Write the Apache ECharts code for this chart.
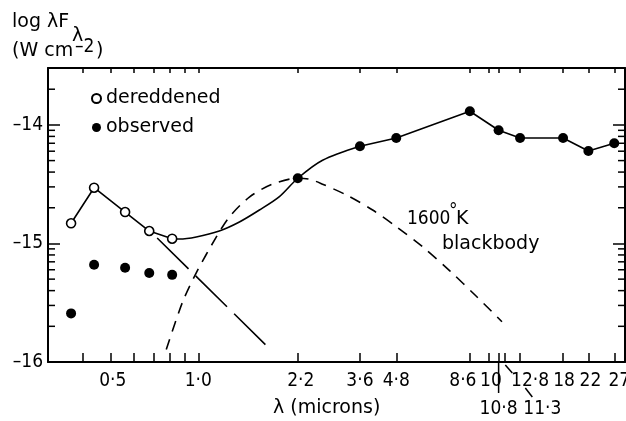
<!DOCTYPE html>
<html><head><meta charset="utf-8">
<script src="https://cdn.jsdelivr.net/npm/echarts@6/dist/echarts.min.js"></script>
<style>html,body{margin:0;padding:0;background:#fff}#c{width:626px;height:421px}</style>
</head><body><div id="c"></div>
<script>
// ---- data (wavelength in microns, log lambda F_lambda in W cm^-2) ----
const optLambda = [0.365, 0.438, 0.56, 0.678, 0.813];
const dereddened = [-14.83, -14.53, -14.735, -14.895, -14.96];
const observedOpt = [-15.59, -15.18, -15.205, -15.25, -15.265];
const irLambda = [2.2, 3.6, 4.8, 8.6, 10.8, 12.8, 18, 22, 27];
const irObserved = [-14.45, -14.18, -14.11, -13.885, -14.045, -14.11, -14.11, -14.22, -14.155];
// smooth fitted curve between optical and near-IR
const fitLambda = [0.86, 0.984, 1.181, 1.385, 1.623, 1.902, 2.677];
const fitValue = [-14.962, -14.945, -14.895, -14.819, -14.718, -14.605, -14.298];
// 1600 K blackbody (dashed)
const bbLambda = [0.776, 0.881, 0.984, 1.154, 1.279, 1.499, 1.80, 2.195, 2.414, 2.677, 3.238, 3.981, 4.818, 5.923, 7.337, 9.09, 11.09];
const bbValue = [-15.895, -15.50, -15.248, -14.945, -14.777, -14.609, -14.50, -14.45, -14.458, -14.50, -14.592, -14.718, -14.861, -15.029, -15.231, -15.45, -15.66];
// stellar tail (long dashes)
const tailLambda = [0.722, 1.702];
const tailValue = [-14.954, -15.853];
// axis ticks
const xLabelValues = [0.5, 1.0, 2.2, 3.6, 4.8, 8.6, 10, 12.8, 18, 22, 27];
const xLabelText = ['0·5', '1·0', '2·2', '3·6', '4·8', '8·6', '10', '12·8', '18', '22', '27'];
const xMinorValues = [0.4, 0.6, 0.7, 0.8, 0.9];
const xExtraBottom = [10.8, 11.3];
const xExtraTop = [10.8];
const yLabelValues = [-16, -15, -14];
const yMinorMultipliers = [2, 3, 4, 5, 6, 7, 8, 9];
const xMin = 0.304, xMax = 29.4, yMin = -16, yMax = -13.52;

// layout: horizontal nudges (px) of some tick labels, as in the original typesetting
const labelNudge = { '0·5': 2, '2·2': 3, '8·6': -7, '10': 2, '12·8': 10, '18': 1, '22': 2, '27': 5 };

const L = Math.log10;
const pairs = (xs, ys) => xs.map((x, i) => [L(x), ys[i]]);
// logarithmic minor ticks of the flux axis (2..9 x 10^n)
const yMinor = [];
yLabelValues.forEach(d => { yMinorMultipliers.forEach(k => { const v = d + L(k); if (v < yMax - 0.01) yMinor.push(v); }); });

const fitPts = pairs([optLambda[4]].concat(fitLambda, irLambda.slice(0, 2)),
                     [dereddened[4]].concat(fitValue, irObserved.slice(0, 2)))
                .sort((a, b) => a[0] - b[0]);

const FONT = 'DejaVu Sans';
const DIGF = '"DejaVu Sans Condensed", "DejaVu Sans"';
const blk = '#000';
const rich = {};
xLabelText.forEach((t, i) => {
  const n = labelNudge[t] || 0;
  rich['s' + i] = { fontFamily: DIGF, fontSize: 19, color: blk,
    padding: n >= 0 ? [0, 0, 0, 2 * n] : [0, -2 * n, 0, 0] };
});

const chart = echarts.init(document.getElementById('c'), null, { renderer: 'canvas' });
const common = { type: 'value', min: L(xMin), max: L(xMax), splitLine: { show: false } };
const yCommon = { type: 'value', min: yMin, max: yMax, splitLine: { show: false } };

chart.setOption({
  animation: false,
  backgroundColor: '#fff',
  grid: { left: 48, right: 1, top: 68, bottom: 59, outerBoundsMode: 'none', containLabel: false },
  legend: {
    orient: 'vertical', left: 91, top: 89, padding: 0, itemGap: 10,
    itemWidth: 9, itemHeight: 9,
    data: [{ name: 'dereddened', icon: 'circle' }, { name: 'observed', icon: 'circle' }],
    textStyle: { fontFamily: FONT, fontSize: 19, color: blk }
  },
  xAxis: [
    Object.assign({}, common, {
      position: 'bottom',
      axisLine: { show: true, onZero: false, lineStyle: { color: blk, width: 2 } },
      axisTick: { show: true, inside: true, length: 9, lineStyle: { color: blk, width: 1.5 },
        customValues: xLabelValues.concat(xMinorValues, xExtraBottom).map(L) },
      axisLabel: { show: true, customValues: xLabelValues.map(L), margin: 10,
        fontFamily: DIGF, fontSize: 19, color: blk, rich: rich,
        formatter: v => { let bi = 0, bd = 1e9; xLabelValues.forEach((t, i) => { const d = Math.abs(L(t) - v); if (d < bd) { bd = d; bi = i; } }); return '{s' + bi + '|' + xLabelText[bi] + '}'; } }
    }),
    Object.assign({}, common, {
      position: 'top',
      axisLine: { show: true, onZero: false, lineStyle: { color: blk, width: 2 } },
      axisTick: { show: true, inside: true, length: 5, lineStyle: { color: blk, width: 1.5 },
        customValues: xLabelValues.concat(xMinorValues, xExtraTop).map(L) },
      axisLabel: { show: false }
    })
  ],
  yAxis: [
    Object.assign({}, yCommon, {
      position: 'left',
      axisLine: { show: true, onZero: false, lineStyle: { color: blk, width: 2 } },
      axisTick: { show: true, inside: true, length: 12, lineStyle: { color: blk, width: 1.5 }, customValues: yLabelValues },
      axisLabel: { show: true, customValues: yLabelValues, margin: 5, padding: [6, 0, 0, 0],
        fontFamily: DIGF, fontSize: 19, color: blk, formatter: v => '–' + Math.abs(v) }
    }),
    Object.assign({}, yCommon, {
      position: 'right',
      axisLine: { show: true, onZero: false, lineStyle: { color: blk, width: 2 } },
      axisTick: { show: true, inside: true, length: 12, lineStyle: { color: blk, width: 1.5 }, customValues: yLabelValues },
      axisLabel: { show: false }
    })
  ],
  series: [
    { name: 'minorLeft', type: 'scatter', silent: true, clip: false, z: 6,
      data: yMinor.map(v => [L(xMin), v]), symbol: 'rect', symbolSize: [7, 1.5], symbolOffset: [3.5, 0],
      itemStyle: { color: blk, opacity: 1 } },
    { name: 'minorRight', type: 'scatter', silent: true, clip: false, z: 6,
      data: yMinor.map(v => [L(xMax), v]), symbol: 'rect', symbolSize: [7, 1.5], symbolOffset: [-3.5, 0],
      itemStyle: { color: blk, opacity: 1 } },
    { name: 'tail', type: 'line', data: pairs(tailLambda, tailValue), symbol: 'none',
      lineStyle: { color: blk, width: 1.6, type: [44, 10] }, silent: true, z: 2 },
    { name: 'blackbody', type: 'line', data: pairs(bbLambda, bbValue), symbol: 'none', smooth: 0.3,
      lineStyle: { color: blk, width: 1.6, type: [11, 8] }, silent: true, z: 2 },
    { name: 'fitOpt', type: 'line', data: pairs(optLambda, dereddened), symbol: 'none',
      lineStyle: { color: blk, width: 1.6 }, silent: true, z: 2 },
    { name: 'fitMid', type: 'line', data: fitPts, symbol: 'none', smooth: 0.3,
      lineStyle: { color: blk, width: 1.6 }, silent: true, z: 2 },
    { name: 'fitIR', type: 'line', data: pairs(irLambda.slice(1), irObserved.slice(1)), symbol: 'none',
      lineStyle: { color: blk, width: 1.6 }, silent: true, z: 2 },
    { name: 'dereddened', type: 'scatter', data: pairs(optLambda, dereddened), symbol: 'circle', symbolSize: 9,
      itemStyle: { color: '#fff', borderColor: blk, borderWidth: 1.6, opacity: 1 }, z: 5 },
    { name: 'observed', type: 'scatter', data: pairs(optLambda, observedOpt).concat(pairs(irLambda, irObserved)),
      symbol: 'circle', symbolSize: 10, itemStyle: { color: blk, opacity: 1 }, z: 5 }
  ]
});

// annotations (positions from the chart's own scales)
const px = v => chart.convertToPixel({ xAxisIndex: 0 }, L(v));
const py = v => chart.convertToPixel({ yAxisIndex: 0 }, v);
const x108 = px(10.8), x113 = px(11.3);
const axisY = py(yMin);
const txt = (text, x, y, size, fam, align) => ({ type: 'text', silent: true, z: 10,
  style: { text: text, x: x, y: y, font: size + 'px ' + (fam || '"DejaVu Sans"'), fill: blk, textAlign: align || 'left', textVerticalAlign: 'middle', verticalAlign: 'middle' } });
const seg = (x1, y1, x2, y2) => ({ type: 'line', silent: true, z: 10, shape: { x1: x1, y1: y1, x2: x2, y2: y2 }, style: { stroke: blk, lineWidth: 1.5 } });
chart.setOption({
  graphic: [
    txt('log λF', 12, 22.4, 19),
    txt('λ', 72, 36.4, 19),
    txt('(W cm', 12, 51.4, 19),
    txt('–2', 75, 47.4, 19, DIGF),
    txt(')', 96, 51.4, 19),
    txt('1600', 407, 219.4, 19, DIGF),
    txt('°', 449, 212, 19, DIGF),
    txt('K', 456, 219.4, 19),
    txt('blackbody', 442, 244.4, 19),
    txt('λ (microns)', 273, 408.4, 19),
    seg(x108, axisY, x108, axisY + 31),
    txt('10·8', x108, 409.4, 19, DIGF, 'center'),
    seg(x113 + 1, axisY + 3, x113 + 8, axisY + 11),
    seg(x113 + 21, axisY + 26, x113 + 28, axisY + 35),
    txt('11·3', x113 + 38, 409.4, 19, DIGF, 'center')
  ]
});
</script>
</body></html>
